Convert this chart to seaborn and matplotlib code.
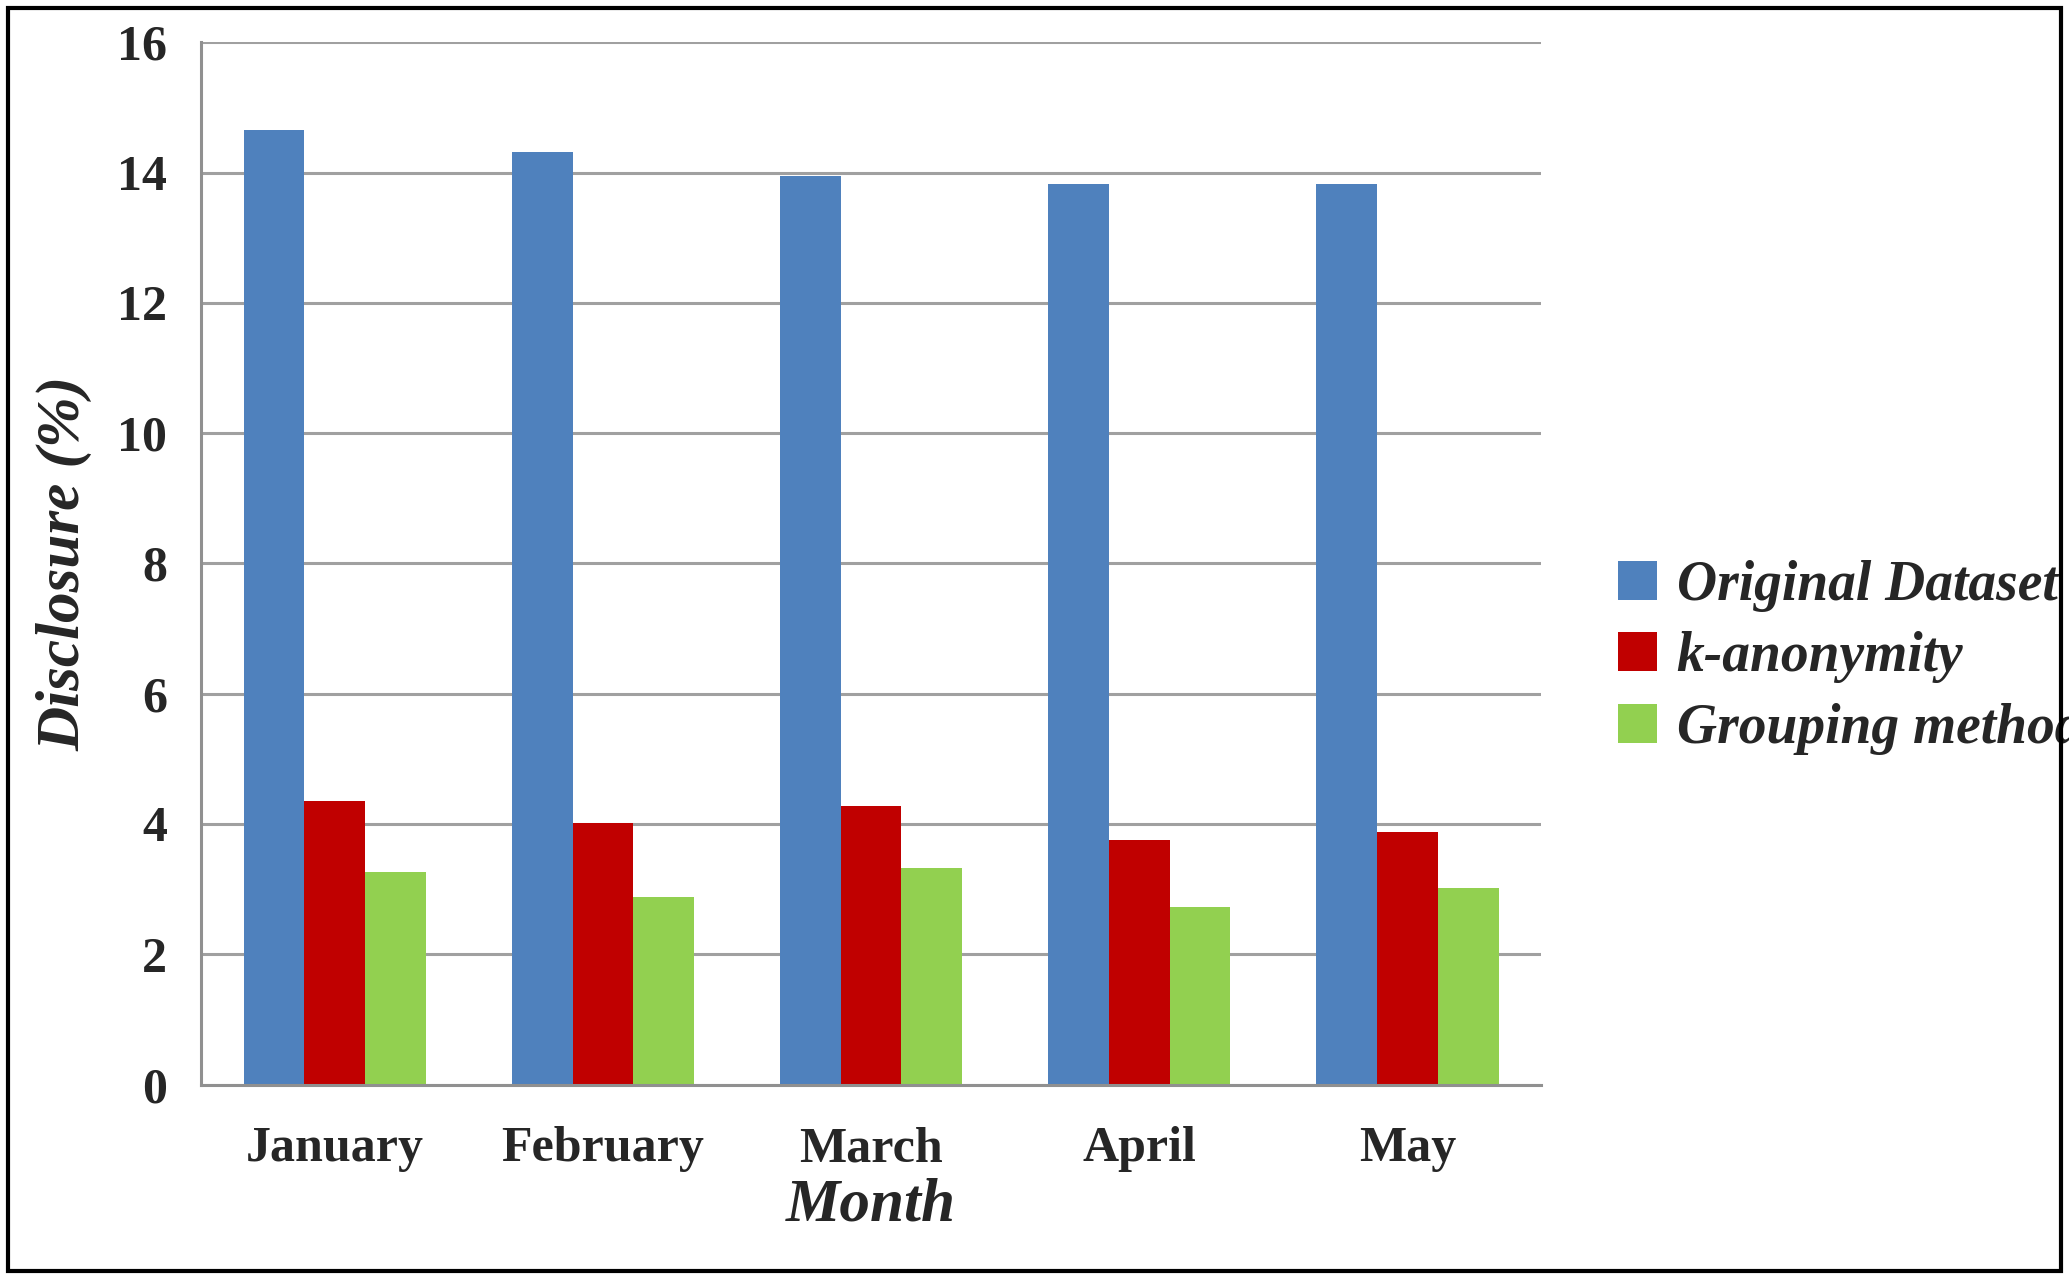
import matplotlib
matplotlib.use("Agg")
import matplotlib.pyplot as plt
import seaborn as sns
import pandas as pd

months = ["January", "February", "March", "April", "May"]
series = ["Original Dataset", "k-anonymity", "Grouping method"]
original = [14.65, 14.32, 13.95, 13.82, 13.82]
kanon = [4.35, 4.02, 4.28, 3.75, 3.88]
grouping = [3.27, 2.88, 3.33, 2.72, 3.02]
colors = ["#4F81BD", "#C00000", "#92D050"]

rows = []
for name, vals in zip(series, [original, kanon, grouping]):
    for m, v in zip(months, vals):
        rows.append({"Month": m, "Series": name, "Value": v})
df = pd.DataFrame(rows)

sns.set_style("white")
plt.rcParams['font.family'] = ['Liberation Serif', 'DejaVu Serif']
fig = plt.figure(figsize=(20.69, 12.79), dpi=100)
ax = fig.add_axes([0.097, 0.152, 0.648, 0.815])
sns.barplot(data=df, x="Month", y="Value", hue="Series", palette=colors,
            width=0.68, ax=ax, saturation=1, legend=True, linewidth=0)
ax.set_ylim(0, 16)
ax.set_yticks(range(0, 17, 2))
ax.yaxis.grid(True, color="#A0A0A0", linewidth=2.2)
ax.set_axisbelow(True)
for s in ["top", "right"]:
    ax.spines[s].set_visible(False)
for s in ["left", "bottom"]:
    ax.spines[s].set_color("#909090")
    ax.spines[s].set_linewidth(2.2)
ax.tick_params(axis="y", length=10, width=2, color="#909090", labelsize=36, pad=14)
ax.tick_params(axis="x", length=0, labelsize=36, pad=30)
for t in ax.get_xticklabels() + ax.get_yticklabels():
    t.set_fontweight("bold")
ax.set_xlabel("Month", fontsize=44, fontweight="bold", style="italic", labelpad=4)
ax.set_ylabel("Disclosure (%)", fontsize=44, fontweight="bold", style="italic", labelpad=18)
ax.legend(loc="center left", bbox_to_anchor=(1.02, 0.41), frameon=False,
          prop={"size": 40, "weight": "bold", "style": "italic"},
          handlelength=0.7, handleheight=0.7, handletextpad=0.35, labelspacing=0.35)
rect = plt.Rectangle((0.004, 0.006), 0.992, 0.988, transform=fig.transFigure,
                     fill=False, edgecolor="black", linewidth=3)
fig.patches.append(rect)
fig.savefig("out.png", dpi=100)
